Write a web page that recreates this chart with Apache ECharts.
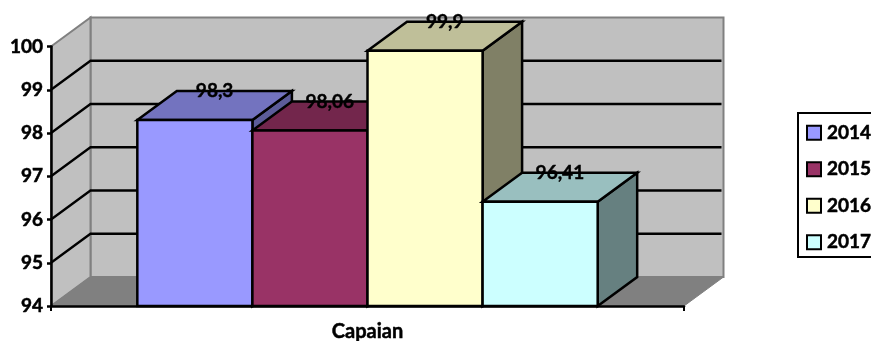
<!DOCTYPE html>
<html>
<head>
<meta charset="utf-8">
<style>html,body{margin:0;padding:0;background:#fff}#chart{width:871px;height:341px}</style>
<script src="https://cdn.jsdelivr.net/npm/echarts@6/dist/echarts.min.js"></script>
</head>
<body>
<div id="chart"></div>
<script>
const categories = ['Capaian'];
const years = ['2014', '2015', '2016', '2017'];
const values = [98.3, 98.06, 99.9, 96.41];
const labels = ['98,3', '98,06', '99,9', '96,41'];
const frontColors = ['#9999FF', '#993366', '#FFFFCC', '#CCFFFF'];
const topColors = ['#7373BF', '#73264C', '#BFBF99', '#99BFBF'];
const sideColors = ['#5C5C99', '#5C1F3D', '#808066', '#668080'];
const yMin = 94;
const yMax = 100;
const wallTicks = [95, 96, 97, 98, 99];

// Oblique projection of the chart depth, in pixels
const depthX = 39.5;
const depthY = -29;
const gapRatio = 1.5;
const font = 'Lato, sans-serif';
const heavy = { textBorderColor: '#000', textBorderWidth: 0.5 };

const chart = echarts.init(document.getElementById('chart'));

function poly(points, fill, stroke, lineWidth) {
  return {
    type: 'polygon',
    shape: { points: points },
    style: { fill: fill, stroke: stroke, lineWidth: lineWidth, lineJoin: 'miter' }
  };
}

function plotEdges(api) {
  const band = api.size([1, 0])[0];
  const centre = api.coord([0, yMin])[0];
  return { left: centre - band / 2, right: centre + band / 2, band: band, centre: centre };
}

function renderWalls(params, api) {
  const e = plotEdges(api);
  const bottom = api.coord([0, yMin])[1];
  const top = api.coord([0, yMax])[1];
  const edge = '#808080';
  return {
    type: 'group',
    children: [
      poly([[e.left + depthX, top + depthY], [e.right + depthX, top + depthY],
            [e.right + depthX, bottom + depthY], [e.left + depthX, bottom + depthY]], '#C0C0C0', edge, 2),
      poly([[e.left, top], [e.left + depthX, top + depthY],
            [e.left + depthX, bottom + depthY], [e.left, bottom]], '#C0C0C0', edge, 2),
      poly([[e.left, bottom], [e.left + depthX, bottom + depthY],
            [e.right + depthX, bottom + depthY], [e.right, bottom]], '#808080', edge, 1)
    ]
  };
}

function renderGridLine(params, api) {
  const e = plotEdges(api);
  const y = api.coord([0, api.value(1)])[1];
  return {
    type: 'polyline',
    shape: { points: [[e.left, y], [e.left + depthX, y + depthY], [e.right + depthX - 2, y + depthY]] },
    style: { stroke: '#000', lineWidth: 2.3, fill: null }
  };
}

function renderBar(seriesIndex) {
  return function (params, api) {
    const e = plotEdges(api);
    const barW = e.band / (years.length + gapRatio);
    const x0 = e.centre + (seriesIndex - years.length / 2) * barW;
    const x1 = x0 + barW;
    const yTop = api.coord([0, api.value(1)])[1];
    const yBase = api.coord([0, yMin])[1];
    const bx0 = x0 + depthX, bx1 = x1 + depthX, byTop = yTop + depthY, byBase = yBase + depthY;
    return {
      type: 'group',
      children: [
        poly([[x1, yTop], [bx1, byTop], [bx1, byBase], [x1, yBase]], sideColors[seriesIndex], '#000', 2.5),
        poly([[x0, yTop], [bx0, byTop], [bx1, byTop], [x1, yTop]], topColors[seriesIndex], '#000', 2.5),
        poly([[x0, yTop], [x1, yTop], [x1, yBase], [x0, yBase]], frontColors[seriesIndex], '#000', 2.5),
        {
          type: 'text',
          style: {
            x: (x0 + x1 + depthX) / 2,
            y: byTop,
            text: labels[seriesIndex],
            fill: '#000',
            font: 'bold 19px ' + font,
            align: 'center',
            verticalAlign: 'middle',
            stroke: '#000',
            lineWidth: 0.4
          }
        }
      ]
    };
  };
}

const barSeries = years.map(function (year, i) {
  return {
    type: 'custom',
    name: year,
    coordinateSystem: 'cartesian2d',
    z: 4 + i,
    clip: false,
    itemStyle: { color: frontColors[i] },
    encode: { x: 0, y: 1 },
    data: [[0, values[i]]],
    renderItem: renderBar(i)
  };
});

chart.setOption({
  animation: false,
  backgroundColor: '#fff',
  grid: { left: 51, right: 187, top: 46.5, bottom: 35, containLabel: false, outerBoundsMode: 'none' },
  xAxis: {
    type: 'category',
    data: categories,
    z: 3,
    axisLine: { lineStyle: { color: '#000', width: 2.5 } },
    axisTick: { show: true, length: 5, lineStyle: { color: '#000', width: 2 } },
    axisLabel: Object.assign({ color: '#000', fontFamily: font, fontWeight: 'bold', fontSize: 20, margin: 16 }, heavy)
  },
  yAxis: {
    type: 'value',
    min: yMin,
    max: yMax,
    interval: 1,
    z: 3,
    splitLine: { show: false },
    axisLine: { show: true, lineStyle: { color: '#000', width: 2.5 } },
    axisTick: { show: true, length: 4, lineStyle: { color: '#000', width: 2.5 } },
    axisLabel: Object.assign({ color: '#000', fontFamily: font, fontWeight: 'bold', fontSize: 19, margin: 8 }, heavy)
  },
  // Frame of the legend runs past the right edge of the canvas
  graphic: [{
    type: 'rect',
    z: 3,
    shape: { x: 798, y: 113, width: 100, height: 144 },
    style: { fill: '#fff', stroke: '#000', lineWidth: 2 }
  }],
  legend: {
    data: years,
    orient: 'vertical',
    left: 798,
    top: 113,
    padding: [10, 0, 10, 8],
    itemWidth: 14,
    itemHeight: 14,
    itemGap: 17,
    icon: 'rect',
    selectedMode: false,
    itemStyle: { borderColor: '#000', borderWidth: 2 },
    textStyle: Object.assign({ color: '#000', fontFamily: font, fontWeight: 'bold', fontSize: 19, lineHeight: 16, padding: [0, 0, 0, 1] }, heavy)
  },
  series: [
    {
      type: 'custom',
      name: 'walls',
      z: 1,
      clip: false,
      encode: { x: 0, y: 1 },
      data: [[0, yMin]],
      renderItem: renderWalls
    },
    {
      type: 'custom',
      name: 'gridlines',
      z: 2,
      clip: false,
      encode: { x: 0, y: 1 },
      data: wallTicks.map(function (t) { return [0, t]; }),
      renderItem: renderGridLine
    }
  ].concat(barSeries)
});
</script>
</body>
</html>
